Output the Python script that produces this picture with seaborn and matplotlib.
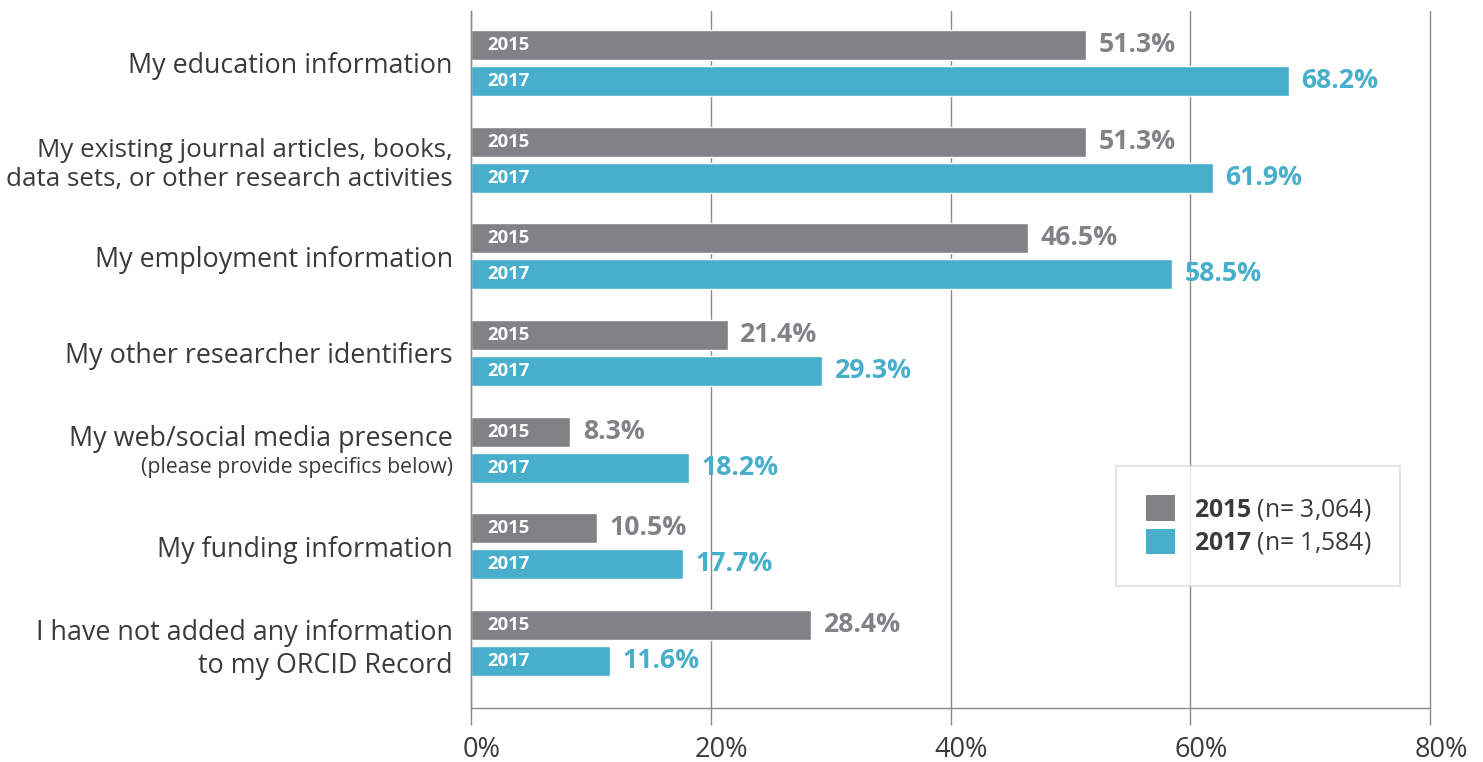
import numpy as np
import pandas as pd
import matplotlib
matplotlib.use("Agg")
import matplotlib.pyplot as plt
from matplotlib.patches import Patch
import matplotlib.transforms as mtransforms
import seaborn as sns

categories = [
    "My education information",
    "My existing journal articles, books,\ndata sets, or other research activities",
    "My employment information",
    "My other researcher identifiers",
    "My web/social media presence",
    "My funding information",
    "I have not added any information\nto my ORCID Record",
]
vals_2015 = [51.3, 51.3, 46.5, 21.4, 8.3, 10.5, 28.4]
vals_2017 = [68.2, 61.9, 58.5, 29.3, 18.2, 17.7, 11.6]
years = ["2015", "2017"]
sample_sizes = ["3,064", "1,584"]
x_ticks = [0, 20, 40, 60, 80]
x_ticklabels = ["0%", "20%", "40%", "60%", "80%"]

grey = "#818286"
teal = "#47AFCB"
text_dark = "#3a3a3a"

df = pd.DataFrame({
    "category": categories * 2,
    "year": ["2015"] * len(categories) + ["2017"] * len(categories),
    "value": vals_2015 + vals_2017,
})

sns.set_style("white")
plt.rcParams["font.family"] = ["Open Sans", "DejaVu Sans"]
plt.rcParams["mathtext.fontset"] = "custom"
plt.rcParams["mathtext.bf"] = "Open Sans:bold"
plt.rcParams["mathtext.rm"] = "Open Sans"

fig = plt.figure(figsize=(14.83, 7.62), dpi=100)
ax = fig.add_axes([471 / 1483, 1 - 708 / 762, (1430 - 471) / 1483, (708 - 11) / 762])

sns.barplot(data=df, y="category", x="value", hue="year", orient="h",
            palette=[grey, teal], width=0.745, gap=0.167, saturation=1,
            legend=False, ax=ax)

ax.set_xlim(0, 80)
ax.set_ylim(6.672, -0.537)
ax.set_xlabel("")
ax.set_ylabel("")
ax.grid(axis="x", color="#8a8a8a", linewidth=1.0)
ax.set_axisbelow(True)
for s in ["top", "right"]:
    ax.spines[s].set_visible(False)
for s in ["left", "bottom"]:
    ax.spines[s].set_color("#8a8a8a")
    ax.spines[s].set_linewidth(1.0)
ax.tick_params(axis="x", length=12, width=1.0, color="#8a8a8a", pad=8, direction="out", bottom=True)
ax.tick_params(axis="y", length=0, pad=13)

ax.set_xticks(x_ticks)
ax.set_xticklabels(x_ticklabels, fontsize=19.5, color=text_dark)
for gl in ax.get_xgridlines():
    gl.set_clip_on(False)
# tick labels sit a little right of their ticks in the original
shift = mtransforms.ScaledTranslation(11 / 100, 0, fig.dpi_scale_trans)
for lab in ax.get_xticklabels():
    lab.set_transform(lab.get_transform() + shift)

# category labels
ylabels = [c if i != 4 else "" for i, c in enumerate(categories)]
ax.set_yticks(range(len(categories)))
ax.set_yticklabels(ylabels, fontsize=19.4, color=text_dark, linespacing=1.25)
ax.get_yticklabels()[1].set_fontsize(18.7)
trans = mtransforms.blended_transform_factory(ax.transAxes, ax.transData)
ax.annotate(categories[4], xy=(0, 4), xycoords=trans, xytext=(-13, 8),
            textcoords="offset points", ha="right", va="center",
            fontsize=19.4, color=text_dark)
ax.annotate("(please provide specifics below)", xy=(0, 4), xycoords=trans,
            xytext=(-13, -12.5), textcoords="offset points", ha="right",
            va="center", fontsize=15.3, color=text_dark)

# value labels and year labels inside bars
label_colors = [grey, teal]
for cont, col, yr in zip(ax.containers, label_colors, years):
    ax.bar_label(cont, labels=[f"{v:.1f}%" for v in cont.datavalues],
                 padding=9, fontsize=19.2, fontweight="bold", color=col)
    for bar in cont:
        yc = bar.get_y() + bar.get_height() / 2
        ax.annotate(yr, xy=(0, yc), xytext=(12, 0), textcoords="offset points",
                    ha="left", va="center", fontsize=13.3, fontweight="bold",
                    color="white")

handles = [Patch(facecolor=grey, edgecolor="none"), Patch(facecolor=teal, edgecolor="none")]
labels = [f"$\\mathbf{{{y}}}$ (n= {n})" for y, n in zip(years, sample_sizes)]
leg = ax.legend(handles, labels, loc="center", mode="expand",
                bbox_to_anchor=(0.6726, 0.1734, 0.2961, 0.1762),
                fontsize=17.8, frameon=True, fancybox=False,
                handlelength=1.2, handleheight=1.2, handletextpad=0.76,
                labelspacing=0.24, borderpad=1.2, borderaxespad=0,
                labelcolor=text_dark)
leg.get_frame().set_edgecolor("#d9d9d9")
leg.get_frame().set_linewidth(1.2)

fig.savefig("out.png", dpi=100, facecolor="white")
plt.close(fig)
